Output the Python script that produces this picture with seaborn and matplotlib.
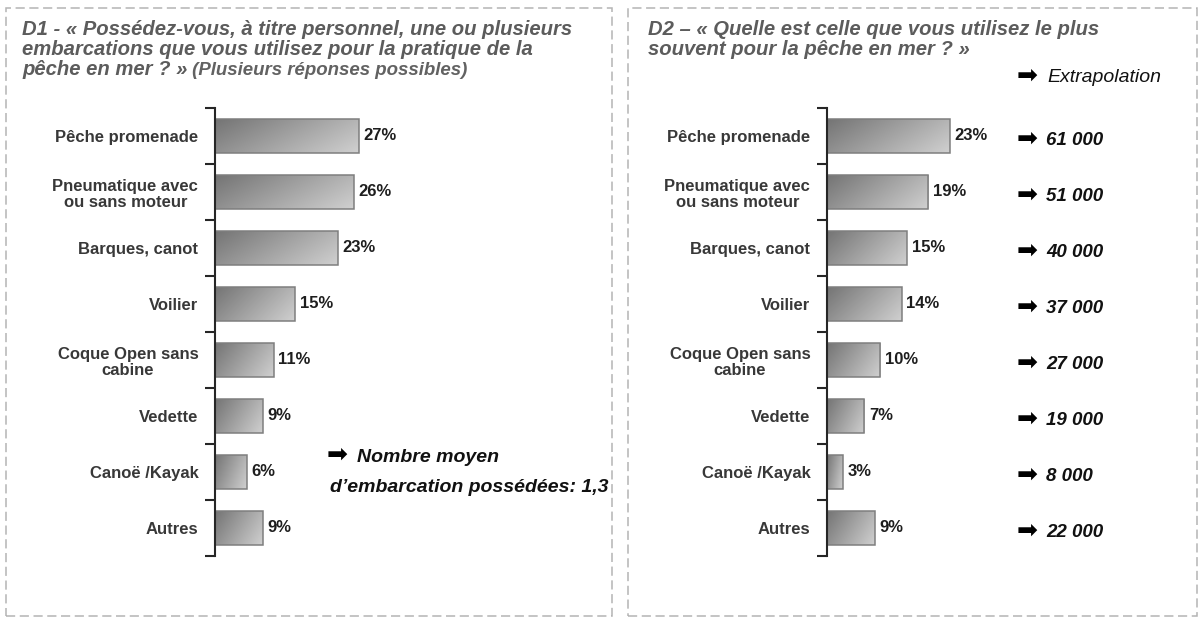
import numpy as np
import pandas as pd
import matplotlib
matplotlib.use("Agg")
import matplotlib.pyplot as plt
from matplotlib.colors import LinearSegmentedColormap
from matplotlib.patches import Rectangle
from matplotlib.transforms import blended_transform_factory
import seaborn as sns

# Boat types (shared by both panels)
categories = [
    "Pêche promenade",
    "Pneumatique avec\nou sans moteur",
    "Barques, canot",
    "Voilier",
    "Coque Open sans\ncabine",
    "Vedette",
    "Canoë /Kayak",
    "Autres",
]
# D1: boats owned (several answers possible), in %
owned_pct = [27, 26, 23, 15, 11, 9, 6, 9]
# D2: boat used most often, in %
most_used_pct = [23, 19, 15, 14, 10, 7, 3, 9]
# Extrapolated number of boats for D2
extrapolation = [61000, 51000, 40000, 37000, 27000, 19000, 8000, 22000]

title_d1 = ["D1 - « Possédez-vous, à titre personnel, une ou plusieurs",
            "embarcations que vous utilisez pour la pratique de la",
            "pêche en mer ? »"]
title_d1_note = " (Plusieurs réponses possibles)"
title_d2 = ["D2 – « Quelle est celle que vous utilisez le plus",
            "souvent pour la pêche en mer ? »"]
mean_note = ["Nombre moyen", "d’embarcation possédées: 1,3"]

sns.set_theme(style="white")
plt.rcParams["font.family"] = ["Liberation Sans", "DejaVu Sans"]

W, H = 1200, 619
fig = plt.figure(figsize=(W / 100, H / 100), dpi=100)
fig.patch.set_facecolor("white")

def fx(px):
    return px / W

def fy(py):
    return 1 - py / H

grad_cmap = LinearSegmentedColormap.from_list("bargrad", ["#747474", "#d0d0d0"])
gx, gy = np.meshgrid(np.linspace(0, 1, 200), np.linspace(0, 1, 50))
grad = 0.7 * gx + 0.3 * gy

def draw_panel(ax, values):
    df = pd.DataFrame({"cat": categories, "val": values})
    sns.barplot(data=df, x="val", y="cat", orient="h", ax=ax, width=0.6,
                color="#a0a0a0", order=categories)
    for p, v in zip(ax.patches, values):
        x0, y0 = p.get_x(), p.get_y()
        w, h = p.get_width(), p.get_height()
        p.set_facecolor("none")
        p.set_edgecolor("#7e7e7e")
        p.set_linewidth(1.1)
        im = ax.imshow(grad, cmap=grad_cmap, vmin=0, vmax=1, aspect="auto",
                       origin="upper", extent=(x0, x0 + w, y0 + h, y0),
                       interpolation="bilinear", zorder=0.5)
        im.set_clip_path(p)
        ax.text(x0 + w + 0.9, y0 + h / 2, f"{v}%", va="center", ha="left",
                fontsize=12, fontweight="bold", color="#1e1e1e")
    ax.set_xlim(0, 30)
    ax.set_ylim(len(categories) - 0.5, -0.5)
    ax.set_xlabel("")
    ax.set_ylabel("")
    ax.set_xticks([])
    bounds = np.arange(len(categories) + 1) - 0.5
    ax.set_yticks(bounds)
    ax.set_yticklabels([])
    ax.set_yticks(np.arange(len(categories)), minor=True)
    ax.set_yticklabels(categories, minor=True, fontsize=12, fontweight="bold",
                       color="#383838", multialignment="center",
                       linespacing=1.12)
    ax.tick_params(axis="y", which="major", length=7, width=1.5, color="#262626",
                   direction="out", left=True)
    ax.tick_params(axis="y", which="minor", length=0, pad=12, left=True)
    for s in ["top", "right", "bottom"]:
        ax.spines[s].set_visible(False)
    ax.spines["left"].set_color("#262626")
    ax.spines["left"].set_linewidth(1.5)
    ax.set_facecolor("none")

ax_top, ax_bot = 108, 556
ax1 = fig.add_axes([fx(215), fy(ax_bot), fx(160), (ax_bot - ax_top) / H])
ax2 = fig.add_axes([fx(827), fy(ax_bot), fx(160), (ax_bot - ax_top) / H])
draw_panel(ax1, owned_pct)
draw_panel(ax2, most_used_pct)

# Dashed frames around each panel
for x0, x1 in [(6, 612), (628, 1197)]:
    fig.patches.append(Rectangle((fx(x0), fy(616)), fx(x1 - x0), (616 - 8) / H,
                                 transform=fig.transFigure, fill=False,
                                 edgecolor="#b4b4b4", linewidth=1.1,
                                 linestyle=(0, (6, 3))))

title_kw = dict(fontsize=14.6, fontweight="bold", fontstyle="italic",
                color="#5c5c5c", va="baseline", ha="left")
for i, line in enumerate(title_d1):
    t = fig.text(fx(22), fy(35 + 20 * i), line, **title_kw)
# Smaller note following the third title line
fig.canvas.draw()
bb = t.get_window_extent()
fig.text(bb.x1 / W, fy(75), title_d1_note,
         **{**title_kw, "fontsize": 13.4, "color": "#626262"})
for i, line in enumerate(title_d2):
    fig.text(fx(648), fy(35 + 20 * i), line, **title_kw)

arrow_kw = dict(family="DejaVu Sans", fontsize=18, color="black",
                va="center", ha="left")

# Mean number of boats owned
note_kw = dict(fontsize=14, fontweight="bold", fontstyle="italic",
               color="#111111", va="center", ha="left")
fig.text(fx(327), fy(455), "➡", **arrow_kw)
fig.text(fx(357), fy(458), mean_note[0], **note_kw)
fig.text(fx(330), fy(487), mean_note[1], **note_kw)

# Extrapolation column
fig.text(fx(1017), fy(76), "➡", **arrow_kw)
fig.text(fx(1047), fy(78), "Extrapolation", fontsize=14, fontstyle="italic",
         color="#111111", va="center", ha="left")
trans = blended_transform_factory(fig.transFigure, ax2.transData)
for i, n in enumerate(extrapolation):
    label = f"{n:,}".replace(",", " ")
    ax2.text(fx(1017), i + 0.04, "➡", transform=trans, clip_on=False, **arrow_kw)
    ax2.text(fx(1046), i + 0.08, label, transform=trans, clip_on=False,
             fontsize=13.5, fontweight="bold", fontstyle="italic",
             color="#111111", va="center", ha="left")

fig.savefig("out.png", dpi=100, facecolor="white")
